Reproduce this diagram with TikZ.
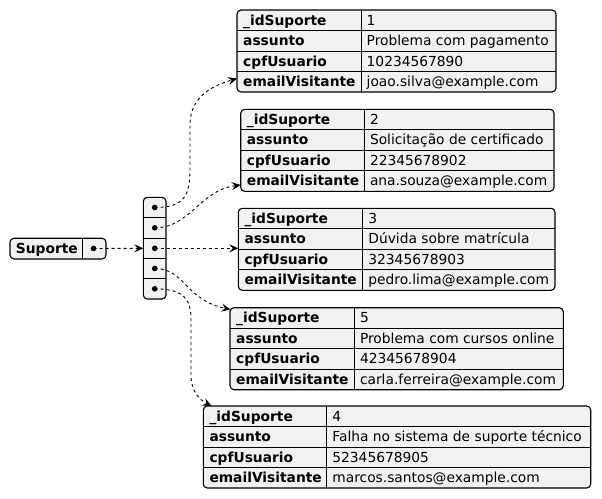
\documentclass[tikz,border=0pt]{standalone}
\usepackage{fontspec}
\setmainfont{DejaVu Sans}
\usetikzlibrary{arrows.meta}
\definecolor{boxfill}{HTML}{F1F1F1}
\tikzset{
  tbl/.style={draw=black, fill=boxfill, line width=1.1pt, rounded corners=4pt, inner sep=0pt, outer sep=0pt},
  sepline/.style={draw=black, line width=0.9pt},
  keytxt/.style={anchor=base west, inner sep=0pt, font=\fontsize{13.8}{17}\selectfont\bfseries},
  valtxt/.style={anchor=base west, inner sep=0pt, font=\fontsize{13.8}{17}\selectfont},
  dotnode/.style={circle, fill=black, inner sep=0pt, minimum size=5.6pt},
  link/.style={line width=0.9pt, dash pattern=on 3pt off 3pt, -{Stealth[length=9pt,width=8pt,inset=3.5pt]}},
}
\newcommand{\jtable}[9]{%
  \node[tbl, minimum width={(#5-#2)*1pt}, minimum height=82pt] (#1) at ({(#2+#5)/2},{#3+41}) {};
  \draw[sepline] (#4,#3) -- (#4,#3+82);
  \foreach \k in {1,2,3} {\draw[sepline] (#2,{#3+20.5*\k}) -- (#5,{#3+20.5*\k});}
  \node[keytxt] (#1k1) at (#2+6,#3+15) {\_idSuporte};
  \node[keytxt] (#1k2) at (#2+6,#3+35.5) {assunto};
  \node[keytxt] (#1k3) at (#2+6,#3+56) {cpfUsuario};
  \node[keytxt] (#1k4) at (#2+6,#3+76.5) {emailVisitante};
  \node[valtxt] (#1v1) at (#4+5.5,#3+15) {#6};
  \node[valtxt] (#1v2) at (#4+5.5,#3+35.5) {#7};
  \node[valtxt] (#1v3) at (#4+5.5,#3+56) {#8};
  \node[valtxt] (#1v4) at (#4+5.5,#3+76.5) {#9};
}
\begin{document}
\begin{tikzpicture}[x=1pt,y=-1pt]
\useasboundingbox (0,0) rectangle (602,498);

% root node
\node[tbl, minimum width=96pt, minimum height=20.7pt] (root) at (58,248.6) {};
\draw[sepline] (82.3,238.3) -- (82.3,258.9);
\node[keytxt] (rootlbl) at (15.7,253.3) {Suporte};
\node[dotnode] (s) at (93.5,248.5) {};

% array node
\node[tbl, minimum width=22.7pt, minimum height=101.7pt] (arr) at (154.65,248.15) {};
\foreach \k in {1,2,3,4} {\draw[sepline] (143.3,{197.3+20.34*\k}) -- (166,{197.3+20.34*\k});}
\node[dotnode] (a1) at (154.7,207.5) {};
\node[dotnode] (a2) at (154.7,227.8) {};
\node[dotnode] (a3) at (154.7,248.3) {};
\node[dotnode] (a4) at (154.7,268.5) {};
\node[dotnode] (a5) at (154.7,288.8) {};

% tables
\jtable{t1}{237}{10}{361}{556}{1}{Problema com pagamento}{10234567890}{joao.silva@example.com}
\jtable{t2}{240.7}{109.3}{364.3}{554}{2}{Solicitação de certificado}{22345678902}{ana.souza@example.com}
\jtable{t3}{238.3}{208.3}{362.7}{555}{3}{Dúvida sobre matrícula}{32345678903}{pedro.lima@example.com}
\jtable{t5}{230}{307.7}{354.3}{563.3}{5}{Problema com cursos online}{42345678904}{carla.ferreira@example.com}
\jtable{t4}{203.3}{406}{326.7}{590.7}{4}{Falha no sistema de suporte técnico}{52345678905}{marcos.santos@example.com}

% connector end points
\coordinate (arrin) at (143.3,248.3);
\coordinate (t1in) at (237,78.5);
\coordinate (t2in) at (240.7,185);
\coordinate (t3in) at (238.3,248.3);
\coordinate (t5in) at (230.5,309.5);
\coordinate (t4in) at (211.5,406);

% connectors
\draw[link] (s.center) -- (arrin);
\draw[link] (a1.center) .. controls (185,207.5) and (190,195) .. (190,168) -- (190,125) .. controls (190,95) and (215,85) .. (t1in);
\draw[link] (a2.center) .. controls (190,228) and (200,190) .. (t2in);
\draw[link] (a3.center) -- (t3in);
\draw[link] (a4.center) .. controls (185,268.5) and (185,300) .. (t5in);
\draw[link] (a5.center) .. controls (185,289) and (191,300) .. (191,320) -- (191,375) .. controls (191,392) and (200,400) .. (t4in);
\end{tikzpicture}
\end{document}
